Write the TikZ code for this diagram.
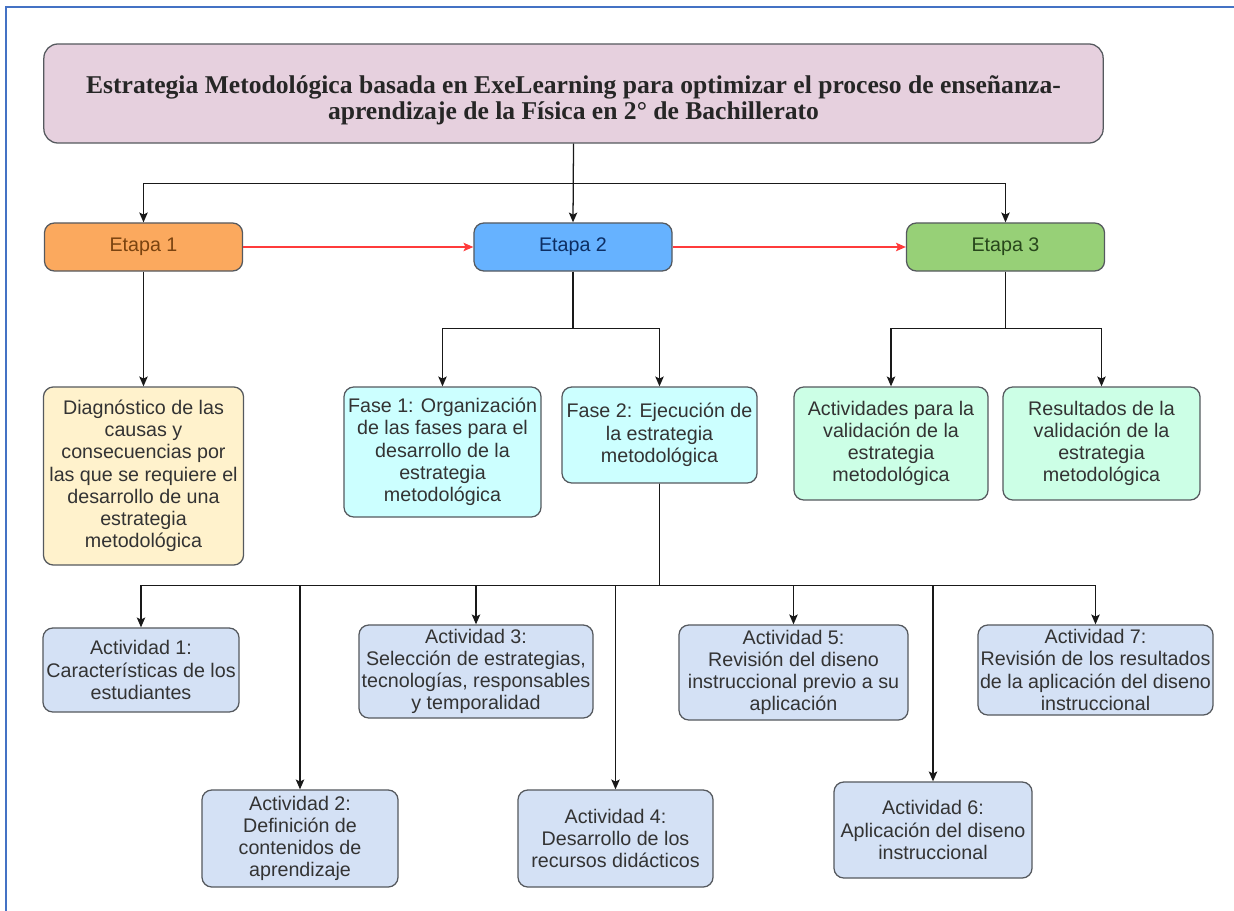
\documentclass[tikz,border=0pt]{standalone}
\usepackage{fontspec}
\setmainfont{Liberation Sans}
\newfontfamily\titlefont{Liberation Serif}
\usetikzlibrary{arrows.meta}

\definecolor{framecol}{HTML}{4472C4}
\definecolor{boxline}{HTML}{55595E}
\definecolor{titlefill}{HTML}{E6D0DE}
\definecolor{etapaAfill}{HTML}{FBA95E}
\definecolor{etapaAtext}{HTML}{7A4310}
\definecolor{etapaBfill}{HTML}{66B2FF}
\definecolor{etapaBtext}{HTML}{0D2E63}
\definecolor{etapaCfill}{HTML}{97D077}
\definecolor{etapaCtext}{HTML}{27461B}
\definecolor{diagfill}{HTML}{FFF2CC}
\definecolor{fasefill}{HTML}{CCFFFF}
\definecolor{validfill}{HTML}{CCFFE6}
\definecolor{actfill}{HTML}{D4E1F5}
\definecolor{redline}{HTML}{FF3B3B}

\begin{document}
\begin{tikzpicture}[x=0.025cm, y=-0.025cm,
    box/.style={draw=boxline, line width=0.9pt, rounded corners=7pt, align=center,
        inner sep=1pt, text=black!80, font=\fontsize{14}{15.8}\selectfont},
    stagebox/.style={box, minimum width=4.95cm, minimum height=1.2cm},
    actbox/.style={box, fill=actfill},
    arr/.style={draw=black!90, line width=0.9pt, -{Stealth[length=7pt,width=6pt,inset=1.5pt]}},
    redarr/.style={draw=redline, line width=0.9pt, -{Stealth[length=7pt,width=6pt,inset=1.5pt]}}]

    % Page size and frame
    \useasboundingbox (0,0) rectangle (1234,911);
    \draw[framecol, line width=1.4pt] (6,911) -- (6,7) -- (1234,7);

    % Title (strut pushes the two lines a little lower)
    \node[box, fill=titlefill, rounded corners=10pt, minimum width=26.475cm, minimum height=2.475cm,
        font=\titlefont\bfseries\fontsize{18.2}{18.8}\selectfont, text=black!85] (title) at (573.5,93.5)
        {\rule{0pt}{22pt}Estrategia Metodológica basada en ExeLearning para optimizar el proceso de enseñanza-\\
         aprendizaje de la Física en 2° de Bachillerato};

    % Stages
    \node[stagebox, fill=etapaAfill, text=etapaAtext] (etapa1) at (143.5,247) {Etapa 1};
    \node[stagebox, fill=etapaBfill, text=etapaBtext] (etapa2) at (573,247) {Etapa 2};
    \node[stagebox, fill=etapaCfill, text=etapaCtext] (etapa3) at (1005.5,247) {Etapa 3};

    % Second level
    \node[box, fill=diagfill, minimum width=5cm, minimum height=4.45cm] (diag) at (143.5,476)
        {Diagnóstico de las\\ causas y\\ consecuencias por\\ las que se requiere el\\
         desarrollo de una\\ estrategia\\ metodológica};
    \node[box, fill=fasefill, minimum width=4.925cm, minimum height=3.25cm] (fase1) at (442.5,452)
        {Fase 1: Organización\\ de las fases para el\\ desarrollo de la\\ estrategia\\ metodológica};
    \node[box, fill=fasefill, minimum width=4.875cm, minimum height=2.4cm] (fase2) at (659.5,435)
        {Fase 2: Ejecución de\\ la estrategia\\ metodológica};
    \node[box, fill=validfill, minimum width=4.85cm, minimum height=2.825cm] (valid1) at (891,443.5)
        {Actividades para la\\ validación de la\\ estrategia\\ metodológica};
    \node[box, fill=validfill, minimum width=4.925cm, minimum height=2.825cm] (valid2) at (1101.5,443.5)
        {Resultados de la\\ validación de la\\ estrategia\\ metodológica};

    % Activities, upper row
    \node[actbox, minimum width=4.9cm, minimum height=2.1cm] (act1) at (141,670)
        {Actividad 1:\\ Características de los\\ estudiantes};
    \node[actbox, minimum width=5.85cm, minimum height=2.325cm] (act3) at (476,671.5)
        {Actividad 3:\\ Selección de estrategias,\\ tecnologías, responsables\\ y temporalidad};
    \node[actbox, minimum width=5.725cm, minimum height=2.375cm] (act5) at (793.5,672.5)
        {Actividad 5:\\ Revisión del diseno\\ instruccional previo a su\\ aplicación};
    \node[actbox, minimum width=5.875cm, minimum height=2.25cm] (act7) at (1095.5,670)
        {Actividad 7:\\ Revisión de los resultados\\ de la aplicación del diseno\\ instruccional};

    % Activities, lower row
    \node[actbox, minimum width=4.9cm, minimum height=2.425cm] (act2) at (300,838.5)
        {Actividad 2:\\ Definición de\\ contenidos de\\ aprendizaje};
    \node[actbox, minimum width=4.875cm, minimum height=2.425cm] (act4) at (615.5,838.5)
        {Actividad 4:\\ Desarrollo de los\\ recursos didácticos};
    \node[actbox, minimum width=4.95cm, minimum height=2.4cm] (act6) at (933,830)
        {Actividad 6:\\ Aplicación del diseno\\ instruccional};

    % Title to stages
    \draw[arr] (title.south) -- (etapa2.north);
    \draw[arr] (title.south) -- ++(0,40) -| (etapa1.north);
    \draw[arr] (title.south) -- ++(0,40) -| (etapa3.north);

    % Stage sequence
    \draw[redarr] (etapa1.east) -- (etapa2.west);
    \draw[redarr] (etapa2.east) -- (etapa3.west);

    % Stages to second level
    \draw[arr] (etapa1.south) -- (diag.north);
    \draw[arr] (etapa2.south) -- ++(0,57) -| (fase1.north);
    \draw[arr] (etapa2.south) -- ++(0,57) -| (fase2.north);
    \draw[arr] (etapa3.south) -- ++(0,57) -| (valid1.north);
    \draw[arr] (etapa3.south) -- ++(0,57) -| (valid2.north);

    % Fase 2 to activities
    \foreach \act in {act1,act2,act3,act4,act5,act6,act7}
        \draw[arr] (fase2.south) -- ++(0,102) -| (\act.north);

\end{tikzpicture}
\end{document}
